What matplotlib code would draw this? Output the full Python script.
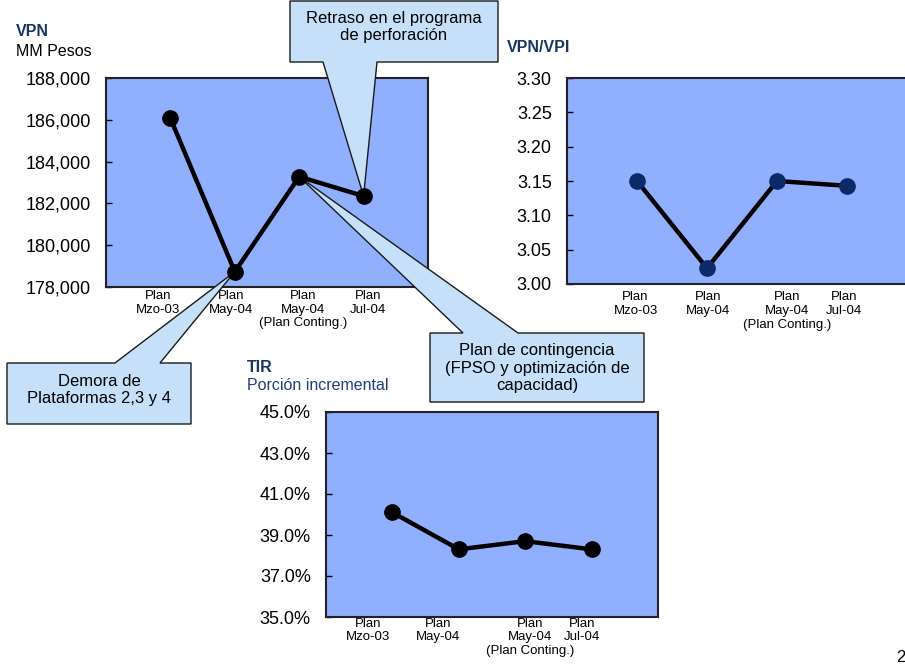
import matplotlib as mpl
import matplotlib.pyplot as plt
from matplotlib.patches import Polygon
from matplotlib.ticker import FuncFormatter

mpl.rcParams.update({
    'font.family': ['Liberation Sans', 'DejaVu Sans'],
    'font.size': 10,
})

# ---- data ----
categories = ['Plan\nMzo-03', 'Plan\nMay-04', 'Plan\nMay-04\n(Plan Conting.)', 'Plan\nJul-04']
vpn = [186070, 178730, 183280, 182350]
vpn_vpi = [3.150, 3.023, 3.150, 3.143]
tir = [40.1, 38.3, 38.7, 38.3]

vpn_ticks = [178000, 180000, 182000, 184000, 186000, 188000]
vpi_ticks = [3.00, 3.05, 3.10, 3.15, 3.20, 3.25, 3.30]
tir_ticks = [35.0, 37.0, 39.0, 41.0, 43.0, 45.0]

callout_retraso = 'Retraso en el programa\nde perforación'
callout_demora = 'Demora de\nPlataformas 2,3 y 4'
callout_conting = 'Plan de contingencia\n(FPSO y optimización de\ncapacidad)'

# ---- style ----
W, H = 905, 669
BG = '#91AFFF'
NAVY = '#17375E'
CALLOUT = '#C6E0FA'

fig = plt.figure(figsize=(W / 100, H / 100), dpi=100)


def px_rect(left, top, right, bottom):
    return [left / W, 1 - bottom / H, (right - left) / W, (bottom - top) / H]


def fpx(x, y):
    return (x / W, 1 - y / H)


def panel(rect, values, yticks, fmt, label_pos, marker_color, xpad):
    ax = fig.add_axes(rect)
    ax.set_facecolor(BG)
    xs = list(range(1, len(values) + 1))
    ax.plot(xs, values, color='black', linewidth=3.2, zorder=4,
            marker='o', markersize=11, markerfacecolor=marker_color,
            markeredgecolor=marker_color)
    ax.set_xlim(0, 5)
    ax.set_ylim(yticks[0], yticks[-1])
    ax.set_yticks(yticks)
    ax.yaxis.set_major_formatter(FuncFormatter(fmt))
    ax.set_xticks(label_pos, categories)
    ax.tick_params(axis='y', direction='in', length=4, width=1,
                   labelsize=13, pad=11)
    ax.tick_params(axis='x', length=0, labelsize=9.5, pad=xpad)
    for s in ax.spines.values():
        s.set_linewidth(1.5)
        s.set_color('#222222')
    return ax


ax1 = panel(px_rect(106, 78, 428, 287), vpn, vpn_ticks,
            lambda v, p: f'{v:,.0f}', [0.81, 1.94, 3.06, 4.07], 'black', 2)
ax2 = panel(px_rect(567, 78, 917, 284), vpn_vpi, vpi_ticks,
            lambda v, p: f'{v:.2f}', [0.98, 2.01, 3.14, 3.96], '#0B2A66', 5)
ax3 = panel(px_rect(326, 412, 658, 617), tir, tir_ticks,
            lambda v, p: f'{v:.1f}%', [0.63, 1.69, 3.07, 3.85], 'black', 0.5)

# ---- titles ----
fig.text(*fpx(16, 32), 'VPN', color=NAVY, fontsize=11.5, fontweight='bold', va='center')
fig.text(*fpx(16, 52), 'MM Pesos', color='black', fontsize=11.5, va='center')
fig.text(*fpx(507, 47), 'VPN/VPI', color=NAVY, fontsize=11.5, fontweight='bold', va='center')
fig.text(*fpx(247, 367), 'TIR', color=NAVY, fontsize=11.5, fontweight='bold', va='center')
fig.text(*fpx(247, 386), 'Porción incremental', color='#1F3F7F', fontsize=11.5, va='center')
fig.text(*fpx(896, 657), '2', color='black', fontsize=12, va='center')

# ---- callouts (pointers aim at the VPN data points) ----
to_fig = fig.transFigure.inverted()


def tip(i):
    return tuple(to_fig.transform(ax1.transData.transform((i + 1, vpn[i]))))


def callout(box, base, tip_xy, side, text, lines_y):
    l, t, r, b = box
    if side == 'bottom':
        pts = [fpx(l, t), fpx(r, t), fpx(r, b), fpx(base[1], b), tip_xy,
               fpx(base[0], b), fpx(l, b)]
    else:
        pts = [fpx(l, t), fpx(base[0], t), tip_xy, fpx(base[1], t),
               fpx(r, t), fpx(r, b), fpx(l, b)]
    poly = Polygon(pts, closed=True, facecolor=CALLOUT, edgecolor='#1a1a1a',
                   linewidth=1.0, transform=fig.transFigure, clip_on=False,
                   zorder=3)
    ax1.add_patch(poly)
    fig.text(*fpx((l + r) / 2, lines_y), text, ha='center', va='center',
             fontsize=12, linespacing=1.2, zorder=5)


callout((290, 1, 498, 62), (323, 377), tip(3), 'bottom', callout_retraso, 27)
callout((7, 363, 191, 424), (115, 160), tip(1), 'top', callout_demora, 390)
callout((430, 333, 644, 402), (463, 518), tip(2), 'top', callout_conting, 368)

fig.savefig('out.png', dpi=100)
